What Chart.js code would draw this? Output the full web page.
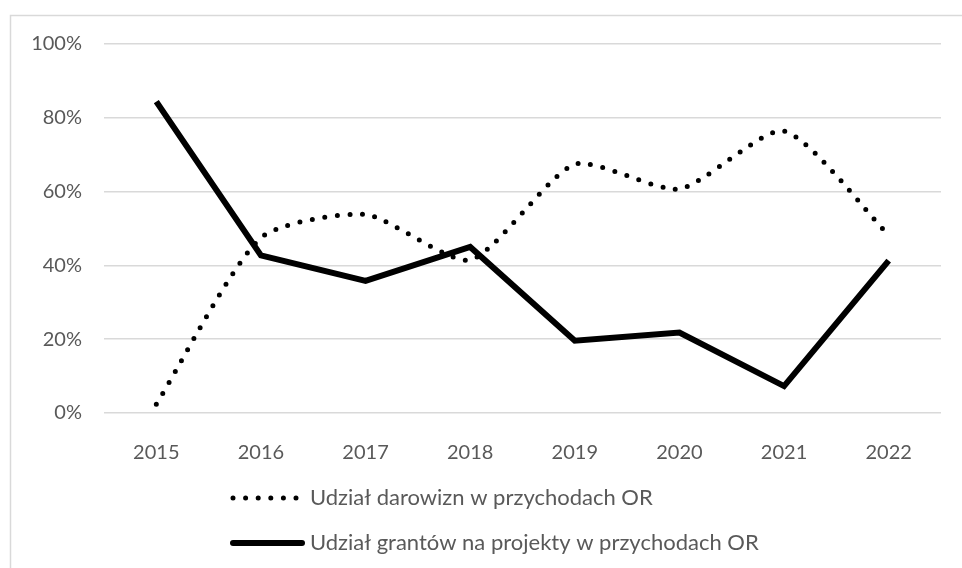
<!DOCTYPE html>
<html>
<head>
<meta charset="utf-8">
<script src="https://cdn.jsdelivr.net/npm/chart.js@4.4.0/dist/chart.umd.min.js"></script>
<style>
    html, body { margin: 0; padding: 0; background: #fff; }
    #wrap { width: 962px; height: 568px; }
</style>
</head>
<body>
<div id="wrap"><canvas id="wykres" width="962" height="568"></canvas></div>
<script>
// Dane (w %)
var lata = ['2015', '2016', '2017', '2018', '2019', '2020', '2021', '2022'];
var udzialDarowizn = [2.4, 47.5, 53.8, 41.5, 67.4, 60.7, 76.4, 48.2];
var udzialGrantow = [84.4, 42.7, 35.8, 45.0, 19.6, 21.8, 7.3, 41.3];
var etykiety = ['Udział darowizn w przychodach OR', 'Udział grantów na projekty w przychodach OR'];
var osY = [0, 20, 40, 60, 80, 100];

var czcionka = 'Lato, "Open Sans", sans-serif';
var szary = '#595959';

// Ramka wokol wykresu (jak w Excelu)
var ramka = {
    id: 'ramka',
    beforeDraw: function (chart) {
        var ctx = chart.ctx;
        ctx.save();
        ctx.strokeStyle = '#d9d9d9';
        ctx.lineWidth = 1.5;
        ctx.strokeRect(10.5, 15.5, 1200, 800);
        ctx.restore();
    }
};

// Legenda w dwoch wierszach, pod osia X
var legenda = {
    id: 'legenda',
    afterDraw: function (chart) {
        var ctx = chart.ctx;
        var y0 = chart.chartArea.bottom + 85;
        chart.data.datasets.forEach(function (ds, i) {
            var y = y0 + i * 45;
            ctx.save();
            ctx.strokeStyle = ds.borderColor;
            ctx.lineWidth = ds.borderWidth;
            ctx.setLineDash(ds.borderDash || []);
            ctx.lineCap = 'round';
            ctx.beginPath();
            ctx.moveTo(233, y);
            ctx.lineTo(i === 0 ? 300 : 302, y);
            ctx.stroke();
            ctx.restore();

            ctx.save();
            ctx.fillStyle = szary;
            ctx.font = '22px ' + czcionka;
            ctx.textBaseline = 'middle';
            ctx.fillText(ds.label, 310, y);
            ctx.restore();
        });
    }
};

window.onload = function () {
    var ctx = document.getElementById('wykres');

    var config = {
        type: 'line',
        data: {
            labels: lata,
            datasets: [{
                label: etykiety[0],
                data: udzialDarowizn,
                borderColor: '#000',
                borderWidth: 5,
                borderDash: [0, 12.6],
                borderCapStyle: 'round',
                tension: 0.22,
                pointRadius: 0,
                fill: false
            }, {
                label: etykiety[1],
                data: udzialGrantow,
                borderColor: '#000',
                borderWidth: 6,
                borderCapStyle: 'butt',
                borderJoinStyle: 'miter',
                tension: 0,
                pointRadius: 0,
                fill: false
            }]
        },
        options: {
            responsive: false,
            animation: false,
            layout: { padding: { left: 20, right: 21, top: 44, bottom: 95 } },
            plugins: {
                legend: { display: false },
                tooltip: { enabled: false }
            },
            scales: {
                x: {
                    offset: true,
                    grid: { display: false },
                    border: { display: false },
                    ticks: { color: szary, font: { family: czcionka, size: 20 }, padding: 20 },
                    afterFit: function (scale) { scale.height = 60; }
                },
                y: {
                    min: 0,
                    max: 100,
                    afterBuildTicks: function (scale) {
                        scale.ticks = osY.map(function (v) { return { value: v }; });
                    },
                    grid: { color: '#d9d9d9', lineWidth: 1.5, drawTicks: false },
                    border: { display: false },
                    ticks: {
                        color: szary,
                        font: { family: czcionka, size: 20 },
                        padding: 22,
                        callback: function (v) { return v + '%'; }
                    },
                    afterFit: function (scale) { scale.width = 84; }
                }
            }
        },
        plugins: [ramka, legenda]
    };

    window.wykres = new Chart(ctx, config);
};
</script>
</body>
</html>
